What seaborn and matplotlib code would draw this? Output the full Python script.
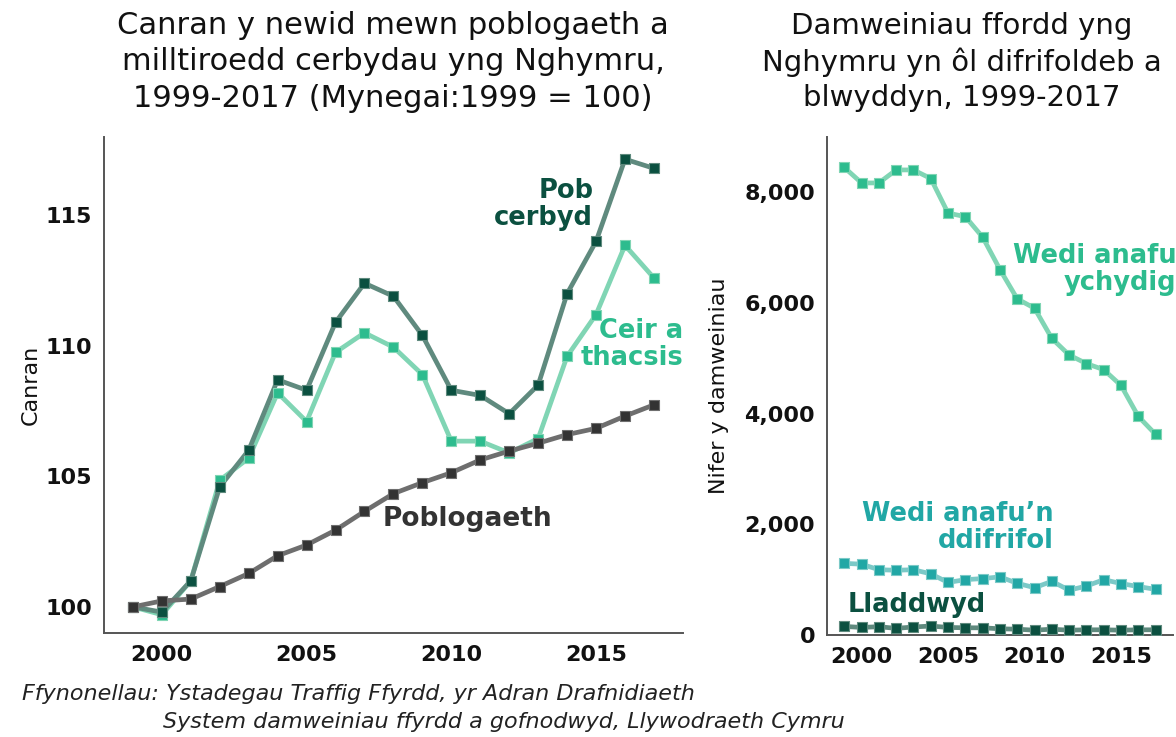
#!/usr/bin/env python3

import numpy as np
import pandas as pd
import matplotlib
matplotlib.use("Agg")
import matplotlib.pyplot as plt
from matplotlib.ticker import FuncFormatter
import seaborn as sns

sns.set_theme(style="white")
plt.rcParams['font.family'] = ['DejaVu Sans']

years = list(range(1999, 2018))

# left panel: index 1999 = 100
pob_cerbyd = [100.0, 99.8, 101.0, 104.6, 106.0, 108.7, 108.3, 110.9, 112.4, 111.9,
              110.4, 108.3, 108.1, 107.4, 108.5, 112.0, 114.0, 117.15, 116.8]
ceir_thacsis = [100.0, 99.7, 101.0, 104.85, 105.7, 108.2, 107.1, 109.75, 110.5, 109.95,
                108.9, 106.35, 106.35, 105.9, 106.45, 109.6, 111.2, 113.85, 112.6]
poblogaeth = [100.0, 100.23, 100.3, 100.78, 101.28, 101.96, 102.37, 102.94, 103.66, 104.34,
              104.76, 105.14, 105.63, 105.97, 106.27, 106.6, 106.84, 107.31, 107.74]

# right panel: number of accidents
ychydig = [8450, 8170, 8170, 8405, 8405, 8250, 7625, 7560, 7190, 6605,
           6075, 5905, 5360, 5060, 4905, 4795, 4510, 3950, 3625]
difrifol = [1295, 1280, 1180, 1170, 1180, 1105, 950, 1000, 1020, 1050,
            935, 855, 970, 810, 885, 1000, 930, 875, 825]
lladdwyd = [155, 137, 150, 120, 145, 162, 137, 130, 130, 112,
            105, 87, 105, 87, 94, 94, 87, 94, 94]

# (line colour, marker colour)
c_dark = ("#5f8a7e", "#0b5040")
c_light = ("#80d5b4", "#2dbc8e")
c_grey = ("#6e6e6e", "#333333")
c_teal = ("#7bc9c7", "#21a7a5")


def draw(ax, x, y, cols):
    sns.lineplot(x=x, y=y, ax=ax, color=cols[0], lw=3.4, zorder=2)
    sns.scatterplot(x=x, y=y, ax=ax, marker='s', s=60, color=cols[1],
                    edgecolor=cols[0], linewidth=0.8, zorder=3)


def style(ax):
    sns.despine(ax=ax)
    for s in ['left', 'bottom']:
        ax.spines[s].set_color('#555555')
        ax.spines[s].set_linewidth(1.4)
    ax.tick_params(axis='both', length=5, width=1.2, color='#555555',
                   labelsize=16, labelcolor='#111111')
    for lab in ax.get_xticklabels() + ax.get_yticklabels():
        lab.set_fontweight('bold')


def main():
    fig = plt.figure(figsize=(11.76, 7.37), dpi=100)
    ax1 = fig.add_axes([0.0884, 0.1411, 0.4923, 0.673])
    ax2 = fig.add_axes([0.7032, 0.1384, 0.2942, 0.6757])

    draw(ax1, years, ceir_thacsis, c_light)
    draw(ax1, years, pob_cerbyd, c_dark)
    draw(ax1, years, poblogaeth, c_grey)
    ax1.set_xlim(1998, 2018)
    ax1.set_ylim(99, 118)
    ax1.set_xticks([2000, 2005, 2010, 2015])
    ax1.set_yticks([100, 105, 110, 115])
    ax1.set_ylabel("Canran", fontsize=16, color='#111111')
    ax1.yaxis.set_label_coords(-0.109, 0.5)
    style(ax1)

    ax1.text(2014.9, 115.4, "Pob\ncerbyd", ha='right', va='center', fontsize=18.5,
             fontweight='bold', color=c_dark[1], linespacing=1.05)
    ax1.text(2018.0, 110.07, "Ceir a\nthacsis", ha='right', va='center', fontsize=18.5,
             fontweight='bold', color=c_light[1], linespacing=1.05)
    ax1.text(2007.64, 103.37, "Poblogaeth", ha='left', va='center', fontsize=19,
             fontweight='bold', color='#333333')

    draw(ax2, years, ychydig, c_light)
    draw(ax2, years, difrifol, c_teal)
    draw(ax2, years, lladdwyd, c_dark)
    ax2.set_xlim(1998, 2018)
    ax2.set_ylim(0, 9000)
    ax2.set_xticks([2000, 2005, 2010, 2015])
    ax2.set_yticks([0, 2000, 4000, 6000, 8000])
    ax2.yaxis.set_major_formatter(FuncFormatter(lambda v, p: f"{int(v):,}"))
    ax2.set_ylabel("Nifer y damweiniau", fontsize=16, color='#111111')
    ax2.yaxis.set_label_coords(-0.283, 0.5)
    style(ax2)

    ax2.text(2018.2, 6600, "Wedi anafu\nychydig", ha='right', va='center', fontsize=18.5,
             fontweight='bold', color=c_light[1], linespacing=1.05)
    ax2.text(2011.1, 1950, "Wedi anafu\u2019n\nddifrifol", ha='right', va='center',
             fontsize=18.5, fontweight='bold', color=c_teal[1], linespacing=1.05)
    ax2.text(1999.2, 540, "Lladdwyd", ha='left', va='center', fontsize=18.5,
             fontweight='bold', color=c_dark[1])

    fig.text(393 / 1176, 1 - 62 / 737,
             "Canran y newid mewn poblogaeth a\nmilltiroedd cerbydau yng Nghymru,\n1999-2017 (Mynegai:1999 = 100)",
             ha='center', va='center', fontsize=22, color='#111111', linespacing=1.33)
    fig.text(962 / 1176, 1 - 62 / 737,
             "Damweiniau ffordd yng\nNghymru yn \u00f4l difrifoldeb a\nblwyddyn, 1999-2017",
             ha='center', va='center', fontsize=21, color='#111111', linespacing=1.33)

    fig.text(22 / 1176, 1 - 694 / 737,
             "Ffynonellau: Ystadegau Traffig Ffyrdd, yr Adran Drafnidiaeth",
             ha='left', va='center', fontsize=16, style='italic', color='#222222')
    fig.text(163 / 1176, 1 - 722 / 737,
             "System damweiniau ffyrdd a gofnodwyd, Llywodraeth Cymru",
             ha='left', va='center', fontsize=16, style='italic', color='#222222')

    plt.savefig('out.png', dpi=100)
    plt.close()


if __name__ == "__main__":
    main()
